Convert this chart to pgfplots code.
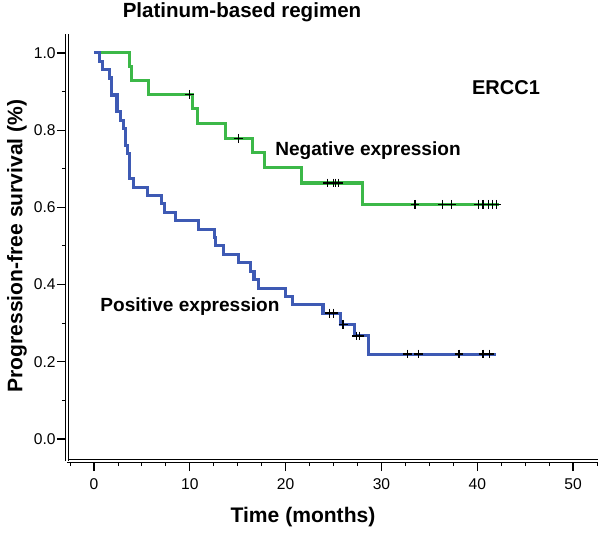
\documentclass[border=0pt]{standalone}
\usepackage{pgfplots}
\pgfplotsset{compat=1.18}
\usepackage{fontspec}
\setmainfont{Liberation Sans}
\definecolor{kmgreen}{RGB}{60,184,72}
\definecolor{kmblue}{RGB}{62,90,180}
\begin{document}
\begin{tikzpicture}[x=0.75pt,y=0.75pt]
\path[use as bounding box] (0pt,0pt) rectangle (450pt,402.75pt);
\begin{axis}[
  at={(50.25pt,57pt)}, anchor=south west, scale only axis,
  width=398.25pt, height=320.25pt,
  xmin=-2.82, xmax=52.6, ymin=-0.057, ymax=1.049,
  axis lines=left,
  axis line style={-, double distance=1.5pt, line width=0.5pt},
  xtick={0,10,20,30,40,50}, ytick={0,0.2,0.4,0.6,0.8,1.0},
  minor xtick={-2.5,2.5,5,7.5,12.5,15,17.5,22.5,25,27.5,32.5,35,37.5,42.5,45,47.5,52.5},
  minor ytick={0.1,0.3,0.5,0.7,0.9},
  tick align=outside, major tick length=7.5pt, minor tick length=3.75pt,
  every tick/.style={black, line width=0.9pt},
  every minor tick/.style={black, line width=0.7pt},
  tick label style={font=\fontsize{11.7}{13}\selectfont},
  /pgf/number format/assume math mode=true,
  yticklabel style={/pgf/number format/.cd, fixed, fixed zerofill, precision=1, /tikz/xshift=2.5pt},
  xticklabel style={yshift=-2.5pt},
  clip=false,
]
% Negative expression (green)
\addplot[const plot, kmgreen, line width=2.3pt] coordinates {
 (0,1.0) (3.7,0.964) (3.9,0.929) (5.7,0.893) (10.3,0.857) (10.8,0.818)
 (13.7,0.779) (16.5,0.741) (17.8,0.703) (21.7,0.663) (28.0,0.608) (42.3,0.608)};
% Positive expression (blue)
\addplot[const plot, kmblue, line width=2.3pt] coordinates {
 (0,1.0) (0.6,0.978) (0.9,0.957) (1.6,0.935) (1.8,0.891) (2.4,0.848)
 (2.8,0.826) (3.05,0.804) (3.3,0.761) (3.5,0.739) (3.75,0.674) (4.1,0.652)
 (5.6,0.630) (7.0,0.609) (7.35,0.587) (8.55,0.565) (10.9,0.543) (12.6,0.522)
 (12.7,0.500) (13.5,0.478) (15.05,0.457) (16.35,0.435) (16.7,0.413) (17.2,0.391)
 (20.0,0.370) (20.7,0.348) (23.9,0.326) (25.7,0.297) (27.2,0.267) (28.6,0.220)
 (42.0,0.220)};
% censored marks
\addplot[only marks, mark=+, mark size=3.3pt, black, mark options={line width=1pt}] coordinates {
 (10.0,0.893) (15.1,0.779) (24.4,0.663) (25.0,0.663) (25.2,0.663) (25.5,0.663)
 (33.5,0.608) (36.4,0.608) (37.3,0.608) (40.1,0.608) (40.6,0.608) (41.2,0.608) (41.6,0.608) (42.0,0.608)};
\addplot[only marks, mark=+, mark size=3.3pt, black, mark options={line width=1pt}] coordinates {
 (24.6,0.326) (25.0,0.326) (26.0,0.297) (27.4,0.267) (27.7,0.267)
 (32.7,0.220) (33.9,0.220) (38.1,0.220) (40.6,0.220) (41.3,0.220)};
\end{axis}
\node[font=\bfseries\fontsize{15.4}{18}\selectfont] at (181.5pt,393.75pt) {Platinum-based regimen};
\node[font=\bfseries\fontsize{15}{18}\selectfont] at (379.5pt,336.75pt) {ERCC1};
\node[font=\bfseries\fontsize{14.3}{17}\selectfont] at (276pt,290pt) {Negative expression};
\node[font=\bfseries\fontsize{14.3}{17}\selectfont] at (142.5pt,172.5pt) {Positive expression};
\node[font=\bfseries\fontsize{15.8}{18}\selectfont, rotate=90] at (12.75pt,218.25pt) {Progression-free survival (\%)};
\node[font=\bfseries\fontsize{15.8}{18}\selectfont] at (227.25pt,15pt) {Time (months)};
\end{tikzpicture}
\end{document}
